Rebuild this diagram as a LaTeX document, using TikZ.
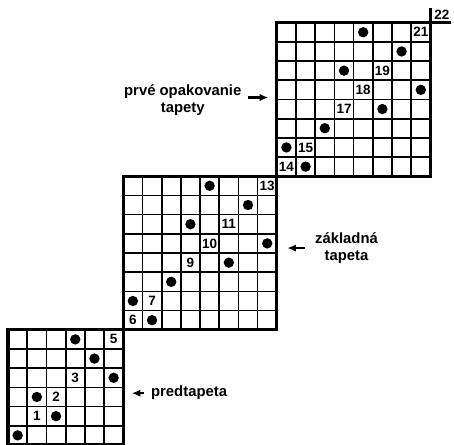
\documentclass[tikz,border=0pt]{standalone}
\usepackage{fontspec}
\setsansfont{Liberation Sans}
\usetikzlibrary{arrows.meta}

\begin{document}
\begin{tikzpicture}[
  x=0.5cm, y=0.5cm,
  font=\sffamily\bfseries,
  >={Latex[length=2.2mm, width=1.9mm]},
  cellline/.style={line width=1.3pt},
  frame/.style={line width=2.4pt},
  dot/.style={circle, fill=black, inner sep=0pt, minimum size=2.7mm},
  num/.style={inner sep=0pt, font=\sffamily\bfseries\fontsize{10}{12}\selectfont},
  lbl/.style={align=center, inner sep=1pt,
              font=\sffamily\bfseries\fontsize{11}{12}\selectfont},
  arr/.style={->, line width=1.6pt, shorten <=4pt},
]
\useasboundingbox (-0.42,0) rectangle (23.23,23.18);
% ---- tiles: predtapeta, zakladna tapeta, opakovanie ----
\foreach \ox/\n in {0/6, 6/8, 14/8} {
  \draw[cellline] (\ox,\ox) grid[step=1] (\ox+\n,\ox+\n);
  \draw[frame] (\ox,\ox) rectangle (\ox+\n,\ox+\n);
}
% corner of the next repetition
\coordinate (c22) at (22,22);
\draw[frame] (c22) -- ++(0,0.75);
\draw[frame] (c22) -- ++(1.05,0);
% ---- dots ----
\foreach \x/\y in {0/0, 2/1, 1/2, 5/3, 4/4, 3/5}
  \node[dot] (d\x-\y) at (\x+.5,\y+.5) {};
\foreach \ox in {6,14}
  \foreach \x/\y in {1/0, 0/1, 2/2, 5/3, 7/4, 3/5, 6/6, 4/7}
    \node[dot] (d\ox-\x-\y) at (\ox+\x+.5,\ox+\y+.5) {};
% ---- numbers on the diagonal ----
\foreach \k in {1,2,3,5,6,7,9,10,11,13,14,15,17,18,19,21}
  \node[num] (n\k) at (\k+.5,\k+.5) {\k};
\node[num] (n22) at (22.6,22.4) {22};
% ---- labels ----
\node[lbl] (rep) at (9.1,17.97) {prvé opakovanie\\tapety};
\coordinate (repend) at (13.55,18.1);
\draw[arr] (rep.east |- repend) -- (repend);
\node[lbl] (base) at (17.63,10.26) {základná\\tapeta};
\coordinate (baseend) at (14.55,10.26);
\draw[arr, shorten <=6.5pt] (base.west) -- (baseend);
\node[lbl] (pre) at (9.43,2.7) {predtapeta};
\coordinate (preend) at (6.45,2.7);
\draw[arr] (pre.west) -- (preend);
\end{tikzpicture}
\end{document}
